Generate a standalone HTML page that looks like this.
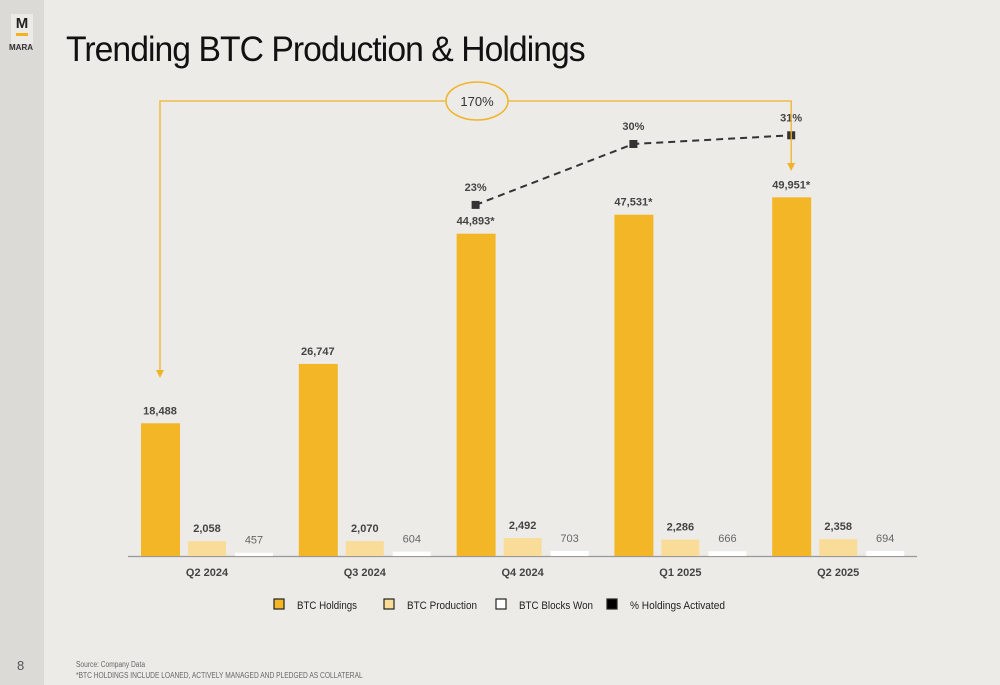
<!DOCTYPE html>
<html><head><meta charset="utf-8"><style>
body{margin:0;width:1000px;height:685px;background:#edebe7;font-family:"Liberation Sans",sans-serif;overflow:hidden;position:relative}
#side{position:absolute;left:0;top:0;width:44px;height:685px;background:#dcdad6}
</style></head><body>
<div id="side"></div>
<div style="position:absolute;left:11px;top:14px;width:22px;height:30px;background:#eceae6">
<div style="font:bold 15px 'Liberation Sans',sans-serif;text-align:center;color:#222;margin-top:1px">M</div>
<div style="width:12px;height:3px;background:#f2b31f;margin:1px auto 0"></div></div>
<div style="position:absolute;left:9px;top:43px;font:bold 8px 'Liberation Sans',sans-serif;color:#333">MARA</div>
<div style="position:absolute;left:66px;top:30px;font-size:35px;color:#111;letter-spacing:-1px;transform:scaleX(0.963);transform-origin:0 0;white-space:nowrap">Trending BTC Production &amp; Holdings</div>
<div style="position:absolute;left:17px;top:658px;font-size:13px;color:#555">8</div>
<div style="position:absolute;left:76px;top:659px;font-size:8px;color:#666;line-height:11px;transform:scaleX(0.83);transform-origin:0 0;white-space:nowrap">Source: Company Data<br>*BTC HOLDINGS INCLUDE LOANED, ACTIVELY MANAGED AND PLEDGED AS COLLATERAL</div>
<svg id="chart" width="1000" height="685" style="position:absolute;left:0;top:0"></svg>
<script>
const categories=["Q2 2024","Q3 2024","Q4 2024","Q1 2025","Q2 2025"];
const holdings=[18488,26747,44893,47531,49951];
const holdingLabels=["18,488","26,747","44,893*","47,531*","49,951*"];
const production=[2058,2070,2492,2286,2358];
const productionLabels=["2,058","2,070","2,492","2,286","2,358"];
const blocks=[457,604,703,666,694];
const pctIdx=[2,3,4];
const pctActive=[23,30,31];
const NS="http://www.w3.org/2000/svg";
const svg=document.getElementById('chart');
const base=556;
const yv=v=>base-v*0.00718;
const yp=p=>405-p*8.7;
const xc=i=>207+i*157.8;
function mk(t,a,parent){const e=document.createElementNS(NS,t);for(const k in a)e.setAttribute(k,a[k]);(parent||svg).appendChild(e);return e;}
function txt(x,y,s,o){const e=mk('text',Object.assign({x:x,y:y,'text-anchor':'middle','font-family':'Liberation Sans, sans-serif','font-size':11,fill:'#444','textLength':undefined},o||{}));e.removeAttribute('textLength');e.textContent=s;return e;}
const ax=mk('line',{x1:128,x2:917,y1:base+0.5,y2:base+0.5,stroke:'#999','stroke-width':1.2});


categories.forEach((c,i)=>{
  const x=xc(i);
  let b=mk('rect',{x:x-66,y:yv(holdings[i]),width:39,height:base-yv(holdings[i]),fill:'#f3b627'});
  
  
  txt(x-47,yv(holdings[i])-9,holdingLabels[i],{'font-weight':'bold'});
  b=mk('rect',{x:x-19,y:yv(production[i]),width:38,height:base-yv(production[i]),fill:'#f8dc98'});
  
  
  txt(x,yv(production[i])-9,productionLabels[i],{'font-weight':'bold'});
  b=mk('rect',{x:x+28,y:yv(blocks[i]),width:38,height:base-yv(blocks[i]),fill:'#ffffff'});
  
  
  txt(x+47,yv(blocks[i])-9,String(blocks[i]),{fill:'#666'});
  const l=txt(x,576,c,{'font-weight':'bold'});
  
  
});
const pts=pctIdx.map((ci,j)=>[xc(ci)-47,yp(pctActive[j])]);
const pl=mk('polyline',{points:pts.map(p=>p.join(',')).join(' '),fill:'none',stroke:'#333','stroke-width':2,'stroke-dasharray':'7,5'});


pts.forEach((p,j)=>{
  const m=mk('rect',{x:p[0]-4,y:p[1]-4,width:8,height:8,fill:'#333'});
  
  
  txt(p[0],p[1]-14,pctActive[j]+'%',{'font-weight':'bold'});
});
const x0=xc(0)-47,x1=xc(4)-47;
const br=mk('polyline',{points:`${x0},372 ${x0},101 ${x1},101 ${x1},165`,fill:'none',stroke:'#f0b429','stroke-width':1.3});


mk('polygon',{points:`${x0-4},370 ${x0+4},370 ${x0},378`,fill:'#f0b429'});
mk('polygon',{points:`${x1-4},163 ${x1+4},163 ${x1},171`,fill:'#f0b429'});
const el=mk('ellipse',{cx:477,cy:101,rx:31,ry:19,fill:'#edebe7',stroke:'#f0b429','stroke-width':1.5});


txt(477,106,'170%',{'font-size':13,fill:'#333'});
const leg=[["BTC Holdings","#f3b627",274,60],["BTC Production","#f8dc98",384,70],["BTC Blocks Won","#ffffff",496,74],["% Holdings Activated","#000000",607,95]];
leg.forEach(l=>{
  const r=mk('rect',{x:l[2],y:599,width:10,height:10,fill:l[1],stroke:'#222','stroke-width':1.2});
  
  
  const t=txt(l[2]+23,609,l[0],{'text-anchor':'start','font-size':11,fill:'#222'});
  t.setAttribute('textLength',l[3]);
  t.setAttribute('lengthAdjust','spacingAndGlyphs');
});
</script>
</body></html>
